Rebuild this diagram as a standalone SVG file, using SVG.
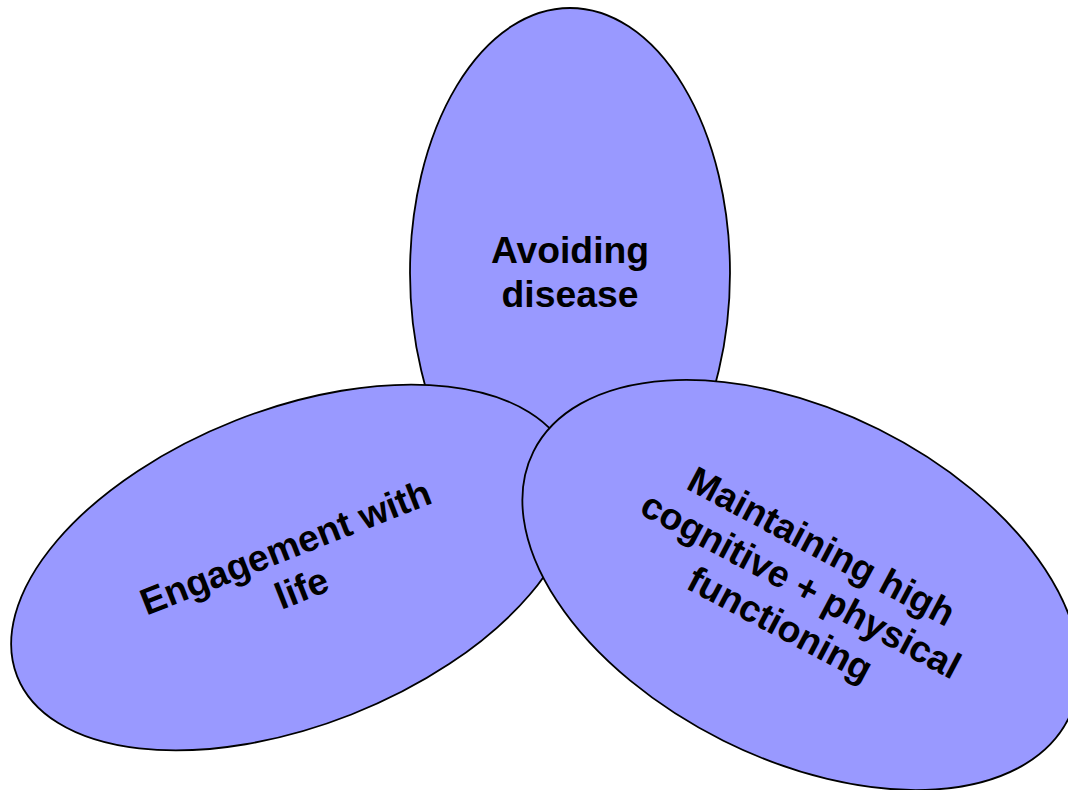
<svg xmlns="http://www.w3.org/2000/svg" width="1068" height="790" viewBox="0 0 1068 790">
  <style>
    .shape { fill: #9999FF; stroke: #000000; stroke-width: 1.8; }
    .label { font-family: "Liberation Sans", Arial, sans-serif; font-weight: bold; font-size: 37.3px; fill: #000000; text-anchor: middle; }
  </style>
  <rect x="0" y="0" width="1068" height="790" fill="#FFFFFF"/>
  <g id="node-avoiding-disease">
    <ellipse class="shape" cx="570" cy="273" rx="160" ry="265"/>
    <text class="label" x="570" y="263">Avoiding</text>
    <text class="label" x="570" y="307">disease</text>
  </g>
  <g id="node-engagement" transform="translate(293.5,567.5) rotate(-21.5)">
    <ellipse class="shape" cx="0" cy="0" rx="297" ry="158"/>
    <text class="label" x="0" y="-9">Engagement with</text>
    <text class="label" x="0" y="35">life</text>
  </g>
  <g id="node-maintaining" transform="translate(801,585) rotate(26.5)">
    <ellipse class="shape" cx="0" cy="0" rx="299" ry="174"/>
    <g transform="rotate(1.5)">
      <text class="label" x="0" y="-31">Maintaining high</text>
      <text class="label" x="0" y="13">cognitive + physical</text>
      <text class="label" x="0" y="57">functioning</text>
    </g>
  </g>
  <g id="connectors"></g>
</svg>
